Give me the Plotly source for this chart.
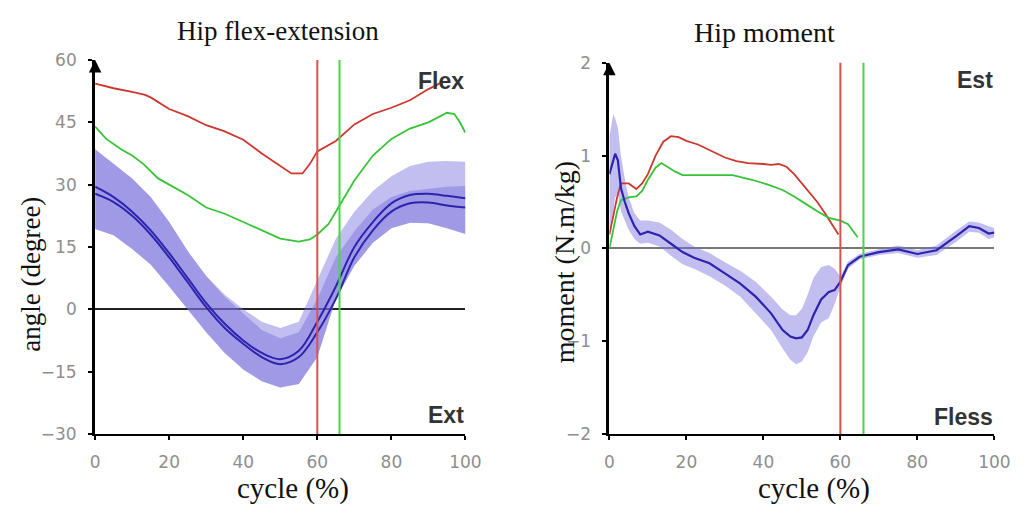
import plotly.graph_objects as go

# ---------------- Left panel: Hip flex-extension ----------------
red1_x = [0, 5, 10, 13.5, 15, 20, 25, 30, 35, 40, 45, 50, 53, 56, 58, 60, 65, 70, 75, 80, 85, 90, 94]
red1_y = [54.3, 53.2, 52.3, 51.6, 51, 48.2, 46.5, 44.3, 42.8, 40.8, 37.5, 34.5, 32.7, 32.7, 35, 38, 40.5, 44.5, 47, 48.5, 50.3, 53, 54.8]

green1_x = [0, 3, 7, 10, 13, 17, 20, 25, 30, 35, 40, 45, 50, 55, 58, 60, 63, 66, 70, 75, 80, 85, 90, 95, 97, 98.5, 100]
green1_y = [44, 41, 38.5, 37, 35, 31.5, 30, 27.5, 24.5, 23, 21, 19, 17, 16.3, 16.8, 18, 20.5, 25, 31, 37, 41, 43.5, 45, 47.3, 47, 45, 42.5]

blue1_x = [0, 5, 10, 15, 20, 25, 30, 35, 40, 45, 50, 55, 60, 65, 70, 75, 80, 85, 90, 95, 100]
blue1_a = [29.5, 27.0, 23.5, 19.0, 13.5, 7.5, 1.5, -3.5, -7.5, -10.5, -12.0, -10.0, -3.0, 5.5, 15.0, 21.0, 25.5, 27.5, 27.8, 27.3, 26.7]
blue1_b = [27.8, 25.8, 22.5, 18.0, 12.5, 6.5, 0.5, -4.5, -8.3, -11.5, -13.2, -11.5, -5.5, 2.5, 12.5, 19.0, 23.5, 25.5, 25.7, 25.0, 24.5]
band1_low = [19.3, 17.8, 14.5, 10.8, 5.5, 0.0, -5.5, -10.5, -14.5, -17.3, -18.8, -18.0, -11.5, 2.5, 10.5, 16.0, 19.5, 20.8, 20.7, 19.5, 18.1]
band1_outer_up = [38.5, 35.0, 31.5, 27.0, 21.0, 14.0, 8.0, 3.5, 0.0, -3.0, -4.5, -3.0, 7.0, 17.0, 23.5, 28.5, 32.0, 34.5, 35.5, 35.7, 35.5]
band1_inner_up = [38.5, 35.0, 31.5, 27.0, 21.0, 14.0, 8.0, 3.0, -1.0, -5.0, -7.0, -5.5, 2.5, 12.5, 18.8, 24.0, 27.0, 28.5, 29.0, 29.5, 29.7]

# ---------------- Right panel: Hip moment ----------------
red2_x = [0, 1, 2, 3, 5, 7, 8.5, 10, 12, 14, 16, 18, 20, 23, 26, 30, 33, 36, 40, 42, 44, 46, 48, 50, 52, 54, 56, 58, 59.5]
red2_y = [0.15, 0.35, 0.55, 0.7, 0.7, 0.64, 0.7, 0.8, 1.0, 1.15, 1.21, 1.2, 1.16, 1.12, 1.06, 0.98, 0.94, 0.92, 0.91, 0.9, 0.91, 0.88, 0.8, 0.7, 0.6, 0.5, 0.38, 0.25, 0.15]

green2_x = [0, 1, 2, 3, 5, 7, 8.5, 10, 12, 13.5, 15, 17, 19, 25, 32, 37, 41, 45, 48, 51, 54, 57, 60, 62, 63.5, 64.5]
green2_y = [0.0, 0.2, 0.4, 0.52, 0.55, 0.56, 0.62, 0.74, 0.87, 0.92, 0.88, 0.83, 0.79, 0.79, 0.79, 0.74, 0.69, 0.63, 0.56, 0.48, 0.4, 0.33, 0.3, 0.26, 0.18, 0.12]

blue2_x = [0, 1, 1.5, 2.2, 3, 4, 5, 6.5, 8, 10, 13, 16, 19, 22, 26, 30, 34, 38, 42, 45, 47, 48.5, 50, 51.5, 53, 55, 57, 58.5, 60, 62, 65, 70, 75, 80, 85, 90, 93.5, 96, 98.5, 100]
blue2_y = [0.8, 0.95, 1.02, 0.95, 0.65, 0.5, 0.38, 0.24, 0.15, 0.18, 0.14, 0.05, -0.04, -0.1, -0.16, -0.27, -0.38, -0.52, -0.7, -0.88, -0.95, -0.97, -0.96, -0.88, -0.72, -0.55, -0.47, -0.45, -0.36, -0.18, -0.09, -0.04, -0.01, -0.06, -0.02, 0.13, 0.24, 0.22, 0.16, 0.17]
band2_up = [1.2, 1.45, 1.4, 1.3, 1.0, 0.75, 0.55, 0.38, 0.3, 0.3, 0.28, 0.2, 0.1, 0.02, -0.05, -0.15, -0.24, -0.36, -0.52, -0.66, -0.72, -0.72, -0.65, -0.5, -0.32, -0.2, -0.18, -0.22, -0.3, -0.14, -0.06, -0.01, 0.03, -0.02, 0.03, 0.19, 0.29, 0.28, 0.24, 0.22]
band2_low = [0.2, 0.4, 0.55, 0.6, 0.4, 0.3, 0.2, 0.1, 0.05, 0.06, 0.02, -0.08, -0.17, -0.22, -0.3, -0.4, -0.52, -0.7, -0.88, -1.08, -1.2, -1.25, -1.22, -1.12, -0.95, -0.8, -0.75, -0.6, -0.42, -0.22, -0.12, -0.07, -0.05, -0.1, -0.07, 0.07, 0.18, 0.17, 0.1, 0.12]

events = [60, 66]          # toe-off markers (red, green)
x_ticks = [0, 20, 40, 60, 80, 100]
y1_ticks = [-30, -15, 0, 15, 30, 45, 60]
y2_ticks = [-2, -1, 0, 1, 2]

RED = "rgb(205,55,45)"
GREEN = "rgb(55,195,55)"
BLUE = "rgb(45,35,175)"
BAND = "rgba(120,110,220,0.45)"

fig = go.Figure()

def band(x, lo, hi, xa, ya, color):
    fig.add_trace(go.Scatter(x=x, y=lo, mode="lines", line=dict(width=0), xaxis=xa, yaxis=ya,
                             showlegend=False, hoverinfo="skip"))
    fig.add_trace(go.Scatter(x=x, y=hi, mode="lines", line=dict(width=0), fill="tonexty",
                             fillcolor=color, xaxis=xa, yaxis=ya, showlegend=False, hoverinfo="skip"))

# left
band(blue1_x, band1_low, band1_outer_up, "x", "y", BAND)
band(blue1_x, band1_low, band1_inner_up, "x", "y", BAND)
for yy in (blue1_a, blue1_b):
    fig.add_trace(go.Scatter(x=blue1_x, y=yy, mode="lines", line=dict(color=BLUE, width=2, shape="spline"),
                             xaxis="x", yaxis="y", showlegend=False))
fig.add_trace(go.Scatter(x=red1_x, y=red1_y, mode="lines", line=dict(color=RED, width=1.8),
                         xaxis="x", yaxis="y", showlegend=False))
fig.add_trace(go.Scatter(x=green1_x, y=green1_y, mode="lines", line=dict(color=GREEN, width=1.8),
                         xaxis="x", yaxis="y", showlegend=False))

# right
band(blue2_x, band2_low, band2_up, "x2", "y2", BAND)
fig.add_trace(go.Scatter(x=red2_x, y=red2_y, mode="lines", line=dict(color=RED, width=1.8),
                         xaxis="x2", yaxis="y2", showlegend=False))
fig.add_trace(go.Scatter(x=green2_x, y=green2_y, mode="lines", line=dict(color=GREEN, width=1.8),
                         xaxis="x2", yaxis="y2", showlegend=False))
fig.add_trace(go.Scatter(x=blue2_x, y=blue2_y, mode="lines", line=dict(color=BLUE, width=2.2),
                         xaxis="x2", yaxis="y2", showlegend=False))

# event lines
for xr, yr in (("x", "y"), ("x2", "y2")):
    for ev, col in zip(events, ["rgb(220,80,80)", "rgb(70,215,70)"]):
        fig.add_shape(type="line", xref=xr, yref=yr + " domain", x0=ev, x1=ev, y0=0, y1=1,
                      line=dict(color=col, width=2), layer="above")

tickfont = dict(family="DejaVu Sans", size=17, color="#8e8e8e")
axis_common = dict(showgrid=False, showline=True, linecolor="black", ticks="outside",
                   tickcolor="black", ticklen=4, tickwidth=1.5, tickfont=tickfont)

fig.update_layout(
    width=1029, height=516, autosize=False,
    margin=dict(l=0, r=0, t=0, b=0),
    paper_bgcolor="white", plot_bgcolor="white",
    xaxis=dict(domain=[0.0894, 0.4568], range=[0, 100], tickvals=x_ticks, linewidth=2,
               zeroline=False, anchor="y", ticklabelstandoff=8, **axis_common),
    yaxis=dict(domain=[0.1453, 0.8992], range=[-30, 60], tickvals=y1_ticks, linewidth=3,
               zeroline=True, zerolinecolor="#222", zerolinewidth=2, anchor="x",
               ticklabelstandoff=8, **axis_common),
    xaxis2=dict(domain=[0.5996, 0.9815], range=[0, 100], tickvals=x_ticks, linewidth=2,
                zeroline=False, anchor="y2", ticklabelstandoff=8, **axis_common),
    yaxis2=dict(domain=[0.1453, 0.8934], range=[-2, 2], tickvals=y2_ticks, linewidth=3,
                zeroline=True, zerolinecolor="#777", zerolinewidth=1.5, anchor="x2",
                ticklabelstandoff=8, **axis_common),
)

serif = "Liberation Serif"
ann = []
def txt(x, y, s, size, rot=0, family=serif, color="#111", bold=False, xanchor="center"):
    ann.append(dict(x=x, y=y, xref="paper", yref="paper", text=("<b>%s</b>" % s) if bold else s,
                    showarrow=False, textangle=rot, xanchor=xanchor, yanchor="middle",
                    font=dict(family=family, size=size, color=color)))

W, H = 1029.0, 516.0
txt(279 / W, 1 - 22 / H, "Hip flex-extension", 27)
txt(775 / W, 1 - 23 / H, "Hip moment", 28)
txt(27 / W, 1 - 275 / H, "angle (degree)", 27, rot=-90)
txt(571 / W, 1 - 262 / H, "moment (N.m/kg)", 28, rot=-90)
txt(294 / W, 1 - 498 / H, "cycle (%)", 29)
txt(826 / W, 1 - 498 / H, "cycle (%)", 29)
sans = "Liberation Sans"
txt(471 / W, 1 - 74 / H, "Flex", 23, family=sans, color="#333", bold=True, xanchor="right")
txt(471 / W, 1 - 421 / H, "Ext", 23, family=sans, color="#333", bold=True, xanchor="right")
txt(1011 / W, 1 - 73 / H, "Est", 23, family=sans, color="#333", bold=True, xanchor="right")
txt(1011 / W, 1 - 423 / H, "Fless", 23, family=sans, color="#333", bold=True, xanchor="right")

# axis arrowheads
for xr, yr, ymin, ymax in (("x", "y", -30, 60), ("x2", "y2", -2, 2)):
    ann.append(dict(x=101.5, y=ymin, xref=xr, yref=yr, ax=-12, ay=0, showarrow=True,
                    arrowhead=2, arrowsize=1, arrowwidth=2, arrowcolor="black", text=""))
    ann.append(dict(x=0, y=ymax, xref=xr, yref=yr, ax=0, ay=12, showarrow=True,
                    arrowhead=2, arrowsize=1, arrowwidth=2.5, arrowcolor="black", text=""))
fig.update_layout(annotations=ann)

fig.write_html("out.html")
